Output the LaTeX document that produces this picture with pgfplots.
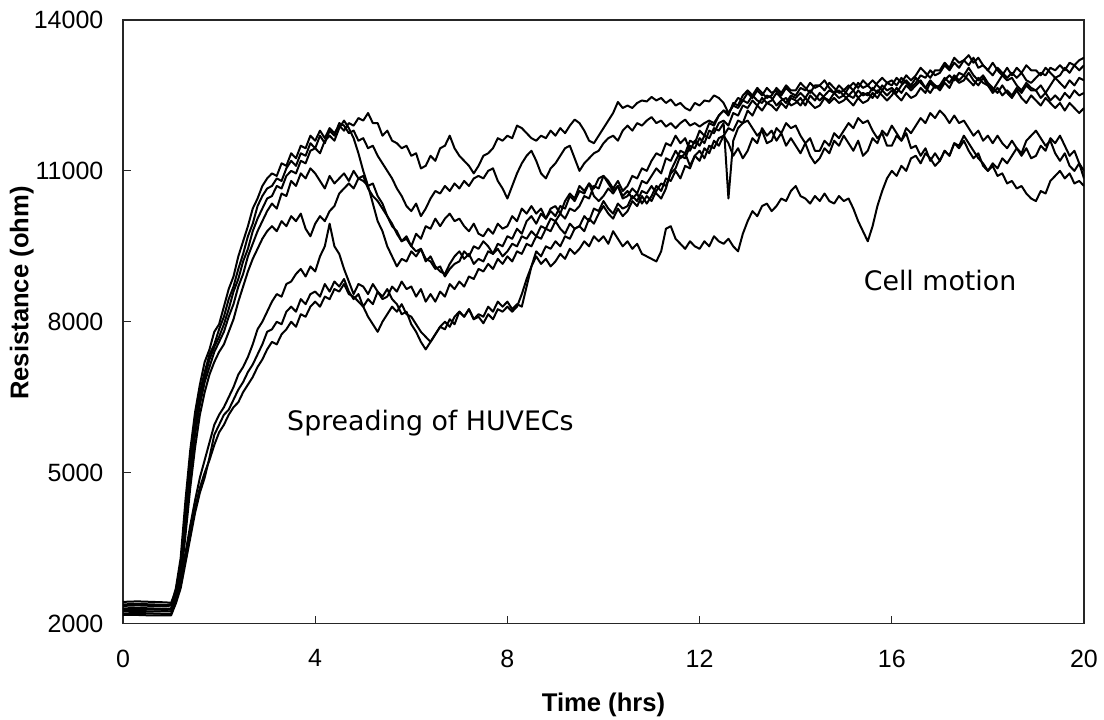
\documentclass[border=0pt]{standalone}
\usepackage{fontspec}
\setmainfont{Liberation Sans}
\newfontfamily\dejavu{DejaVu Sans}
\usepackage{pgfplots}
\usepackage{pgfplotstable}
\pgfplotsset{compat=1.18}
\pgfplotstableread{
t a b c d e f g h
0 2350 2430 2300 2250 2200 2380 2170 2280
0.3 2360 2440 2310 2250 2210 2390 2170 2290
0.6 2350 2430 2300 2240 2200 2380 2160 2280
0.9 2340 2420 2290 2240 2190 2370 2160 2270
1.0 2360 2410 2300 2240 2190 2380 2160 2280
1.1 2700 2650 2550 2500 2420 2550 2400 2450
1.2 3300 3150 3050 2950 2850 2850 2700 2750
1.3 4450 4250 4100 3950 3750 3400 3200 3300
1.4 5450 5250 5100 4950 4700 3950 3700 3800
1.5 6200 6000 5900 5750 5500 4450 4200 4300
1.6 6750 6600 6500 6350 6150 4900 4600 4700
1.7 7200 7000 6900 6800 6600 5250 4900 5000
1.8 7450 7350 7250 7100 6950 5600 5300 5250
1.9 7800 7550 7500 7400 7200 5950 5750 5550
2.0 7950 7850 7700 7600 7400 6150 5950 5800
2.1 8300 8100 7950 7800 7550 6300 6150 5950
2.2 8650 8450 8250 8100 7800 6500 6250 6150
2.3 8900 8700 8600 8350 8050 6700 6450 6300
2.4 9300 9050 8850 8700 8400 6950 6650 6400
2.5 9600 9350 9200 8950 8700 7100 6800 6600
2.6 9900 9700 9450 9300 9000 7300 7000 6750
2.7 10250 9950 9800 9550 9250 7550 7150 6900
2.8 10450 10300 10050 9800 9450 7850 7350 7100
2.9 10700 10500 10250 10000 9650 8000 7550 7250
3.0 10850 10650 10450 10200 9800 8200 7800 7450
3.1 10950 10700 10500 10350 9900 8400 7850 7600
3.2 10900 10850 10700 10250 9800 8550 8000 7550
3.3 11150 10800 10650 10550 10000 8500 7950 7750
3.4 11100 11050 10900 10500 9900 8750 8200 7850
3.5 11350 11200 11000 10800 10100 8800 8300 8000
3.6 11250 11100 10950 10700 10000 8950 8200 7900
3.7 11500 11350 11200 10950 10150 9050 8450 8150
3.8 11450 11300 11150 10850 9850 8900 8350 8100
3.9 11700 11550 11400 11050 9700 9100 8550 8300
4.0 11600 11450 11450 10950 9950 9000 8600 8400
4.1 11800 11700 11350 10800 10100 9300 8500 8300
4.2 11650 11550 11600 10650 10000 9500 8750 8500
4.3 11850 11800 11700 10900 10200 9950 8600 8450
4.4 11750 11700 11600 10750 10300 9500 8800 8650
4.5 11900 11950 11850 10850 10550 9350 8700 8600
4.6 11800 11900 12000 10950 10650 9050 8850 8750
4.7 11950 11750 11850 10800 10750 8800 8600 8550
4.8 11900 11800 11650 11000 10650 8550 8450 8500
4.9 12050 11600 11350 10850 10850 8750 8550 8400
5.0 12000 11650 11000 10900 10800 8700 8300 8300
5.1 12150 11450 10700 10650 10700 8550 8450 8100
5.2 11950 11500 10350 10500 10750 8750 8350 7950
5.3 11950 11300 10000 10400 10500 8600 8600 7800
5.4 11700 11150 9800 10250 10350 8450 8500 8000
5.5 11800 11000 9500 10100 10100 8500 8650 8150
5.6 11600 10850 9300 9950 9900 8700 8450 8300
5.7 11550 10650 9100 9750 9800 8600 8350 8200
5.8 11450 10500 9250 9600 9600 8800 8150 8350
5.9 11500 10300 9200 9700 9650 8650 8200 8150
6.0 11300 10200 9400 9500 9500 8700 7950 8100
6.1 11350 10350 9300 9750 9400 8500 7800 7950
6.2 11050 10100 9450 9650 9450 8650 7600 7800
6.3 11100 10250 9200 9900 9250 8400 7450 7700
6.4 11300 10450 9300 9850 9200 8550 7600 7600
6.5 11200 10600 9100 10050 9050 8400 7750 7750
6.6 11450 10550 9000 9900 9100 8600 7900 7900
6.7 11500 10700 8950 10050 8900 8500 7850 8000
6.8 11700 10600 9150 10150 9050 8750 8050 7900
6.9 11450 10750 9300 10000 9150 8650 7950 8100
7.0 11300 10650 9400 10050 9200 8800 8200 8200
7.1 11200 10800 9250 9900 9400 8700 8100 8100
7.2 11100 10700 9350 9800 9300 8900 8250 8250
7.3 10950 10850 9150 9950 9500 8850 8050 8050
7.4 11100 10900 9250 9750 9450 9050 8150 8100
7.5 11300 10850 9200 9700 9600 9000 8100 7970
7.6 11350 11000 9400 9850 9500 9150 8300 8150
7.7 11450 11050 9350 9750 9350 9050 8200 8050
7.8 11650 10800 9550 9950 9450 9250 8400 8250
7.9 11600 10650 9500 9850 9300 9150 8300 8200
8.0 11700 10450 9700 9900 9400 9300 8400 8300
8.1 11650 10700 9650 10100 9550 9200 8250 8200
8.2 11900 10950 9850 10000 9500 9400 8350 8300
8.3 11850 11150 9750 10250 9700 9350 8300 8550
8.4 11750 11300 10000 10150 9650 9550 8700 8850
8.5 11650 11400 10100 10300 9800 9500 9100 9100
8.6 11600 11200 9950 10150 9700 9700 9400 9300
8.7 11700 10950 10150 10250 9900 9650 9300 9150
8.8 11650 10850 10050 10050 9850 9850 9500 9250
8.9 11800 11050 10250 10200 10050 9800 9450 9100
9.0 11700 11150 10300 10100 10000 10000 9600 9200
9.1 11850 11300 10150 10300 10150 9850 9500 9350
9.2 11750 11450 10400 10250 10050 9750 9700 9250
9.3 11900 11500 10550 10500 10250 9950 9650 9450
9.4 12020 11250 10450 10400 10200 9850 9850 9350
9.5 11950 11000 10700 10600 10300 9900 9900 9450
9.6 11800 11150 10600 10550 10500 10100 9800 9600
9.7 11600 11250 10750 10750 10450 10000 10050 9500
9.8 11550 11350 10500 10650 10700 10250 9950 9700
9.9 11700 11400 10400 10850 10650 10200 10150 9600
10.0 11850 11550 10500 10900 10900 10400 10300 9700
10.1 12000 11650 10650 10750 10800 10250 10150 9550
10.2 12150 11700 10550 10600 10650 10150 10050 9800
10.3 12370 11600 10700 10700 10800 10350 10250 9650
10.4 12250 11800 10500 10450 10600 10250 10100 9500
10.5 12300 11900 10600 10500 10700 10300 10200 9600
10.6 12250 11800 10450 10650 10900 10500 10400 9450
10.7 12350 11950 10550 10550 10850 10400 10300 9550
10.8 12400 11900 10350 10800 11050 10600 10500 9350
10.9 12380 12000 10500 10750 11000 10550 10350 9300
11.0 12470 12070 10400 10900 11200 10700 10500 9250
11.1 12400 11950 10600 11050 11350 10550 10700 9200
11.2 12450 12000 10750 10950 11300 10450 10600 9400
11.3 12350 11880 10700 11250 11550 10650 10850 9850
11.4 12420 11950 10950 11200 11500 11000 10800 9900
11.5 12300 11850 11050 11400 11700 11200 11000 9650
11.6 12350 11950 11300 11250 11550 11400 10850 9550
11.7 12250 12020 11250 11350 11650 11350 11100 9450
11.8 12200 11900 11500 11100 11400 11600 11050 9600
11.9 12350 11950 11450 11300 11600 11550 11300 9500
12.0 12300 11880 11650 11200 11500 11800 11400 9450
12.1 12400 11950 11550 11450 11700 11700 11250 9600
12.2 12380 12000 11800 11350 11650 11950 11500 9500
12.3 12500 11950 11750 11600 11850 11900 11450 9700
12.4 12450 12100 11950 11500 11800 12100 11650 9600
12.5 12350 12200 12000 11700 11950 12200 11700 9550
12.6 12150 12150 11900 11550 10450 12100 11850 9650
12.7 12300 12300 12150 11300 11600 12350 11800 9500
12.8 12450 12250 12100 11450 11850 12300 12000 9400
12.9 12400 12400 12300 11250 11950 12500 11950 9750
13.0 12550 12350 12250 11400 12000 12600 12200 10000
13.1 12450 12500 12400 11650 11850 12500 12100 10200
13.2 12600 12400 12300 11550 11700 12650 12300 10100
13.3 12500 12350 12450 11850 11800 12550 12200 10300
13.4 12650 12500 12350 11700 11550 12450 12350 10350
13.5 12550 12450 12400 11800 11600 12500 12300 10200
13.6 12600 12300 12550 11600 11850 12650 12200 10300
13.7 12500 12400 12450 11750 11750 12550 12350 10450
13.8 12650 12450 12350 11500 11950 12700 12250 10400
13.9 12550 12300 12500 11650 11850 12600 12450 10600
14.0 12500 12350 12450 11500 11900 12600 12400 10700
14.1 12650 12450 12550 11350 11700 12750 12300 10500
14.2 12600 12300 12450 11550 11550 12650 12450 10450
14.3 12750 12500 12600 11300 11650 12550 12350 10350
14.4 12650 12400 12500 11150 11400 12700 12250 10500
14.5 12700 12550 12400 11250 11400 12700 12300 10400
14.6 12600 12450 12500 11450 11600 12800 12450 10550
14.7 12750 12350 12600 11350 11500 12650 12400 10400
14.8 12650 12450 12550 11600 11750 12550 12550 10350
14.9 12550 12350 12700 11500 11650 12600 12450 10500
15.0 12600 12400 12600 11700 11800 12500 12500 10400
15.1 12700 12500 12500 11550 11950 12650 12400 10450
15.2 12600 12450 12600 11400 11850 12750 12300 10250
15.3 12750 12600 12450 11600 12050 12650 12450 10000
15.4 12650 12500 12550 11300 11950 12800 12350 9800
15.5 12700 12550 12500 11400 12000 12700 12400 9600
15.6 12600 12450 12650 11650 11800 12800 12550 9900
15.7 12750 12600 12550 11550 11650 12700 12450 10300
15.8 12850 12500 12700 11800 11750 12600 12600 10600
15.9 12750 12400 12600 11700 11500 12750 12500 10850
16.0 12800 12500 12650 11900 11500 12700 12600 11000
16.1 12700 12650 12550 11750 11700 12850 12500 10900
16.2 12850 12550 12700 11600 11600 12750 12400 11100
16.3 12750 12700 12800 11750 11850 12900 12550 11000
16.4 12650 12600 12700 11450 11750 12800 12450 11250
16.5 12750 12700 12850 11500 11900 12900 12500 11300
16.6 12900 12800 12750 11300 12050 13050 12650 11150
16.7 12850 12650 12650 11450 11950 12950 12550 11350
16.8 13000 12550 12800 11200 12150 12850 12750 11250
16.9 12900 12700 12700 11350 12050 13000 12650 11100
17.0 12950 12600 12650 11200 12200 13000 12700 11200
17.1 13100 12750 12800 11400 12100 13150 12850 11400
17.2 13000 12650 12900 11300 11950 13050 12750 11300
17.3 13150 12850 12800 11550 12100 13250 12900 11550
17.4 13050 12750 12950 11450 11950 13150 12800 11500
17.5 13200 12800 12900 11600 12000 13200 12900 11700
17.6 13100 12950 13050 11400 11850 13300 12800 11550
17.7 13250 12800 12900 11250 11700 13150 12700 11400
17.8 13050 12700 12800 11350 11800 13250 12850 11250
17.9 13100 12850 12900 11100 11600 13100 12750 11150
18.0 13000 12700 12750 11000 11700 13000 12700 11000
18.1 12900 12600 12650 11150 11550 13150 12550 11100
18.2 13050 12750 12550 11050 11700 13000 12650 10900
18.3 12950 12900 12700 11250 11550 12900 12500 10950
18.4 12850 12800 12550 11150 11450 13050 12600 10750
18.5 12950 12850 12450 11300 11600 12900 12500 10800
18.6 12850 12700 12600 11450 11450 13050 12650 10650
18.7 12950 12600 12450 11350 11300 12950 12550 10700
18.8 12800 12750 12350 11600 11450 13100 12700 10550
18.9 12750 12650 12500 11700 11250 13000 12600 10450
19.0 12850 12600 12400 11800 11300 13000 12600 10400
19.1 12950 12700 12300 11650 11500 12900 12450 10600
19.2 12900 12550 12450 11500 11400 13050 12550 10550
19.3 13050 12700 12350 11600 11650 12950 12400 10800
19.4 13000 12850 12250 11350 11550 12850 12500 10900
19.5 13100 12750 12350 11200 11700 12900 12400 11000
19.6 13000 12650 12200 11350 11500 13050 12550 10850
19.7 13150 12800 12350 11100 11300 12950 12450 10950
19.8 13100 12700 12250 11000 11400 13100 12600 10750
19.9 13200 12850 12150 11150 11150 13000 12500 10800
20.0 13250 12800 12250 10850 11000 13100 12550 10700
}\data
\begin{document}
\begin{tikzpicture}
\path[use as bounding box] (-61.5pt,-47.75pt) rectangle (490.5pt,311.75pt);
\begin{axis}[
  scale only axis,
  width=480.5pt, height=301.75pt,
  xmin=0, xmax=20, ymin=2000, ymax=14000,
  xtick={0,4,8,12,16,20},
  ytick={2000,5000,8000,11000,14000},
  scaled y ticks=false,
  scaled x ticks=false,
  tick align=inside,
  tick pos=left,
  major tick length=4pt,
  axis line style={line width=0.6pt, black!85},
  every tick/.style={line width=0.6pt, black!85},
  /pgf/number format/assume math mode=true,
  /pgf/number format/set thousands separator={},
  ticklabel style={font=\fontsize{12.5}{14}\selectfont},
  xticklabel style={yshift=-9.6pt},
  yticklabel style={xshift=-6.3pt},
  xlabel={Time (hrs)},
  ylabel={Resistance (ohm)},
  label style={font=\fontsize{12.8}{15}\selectfont\bfseries},
  xlabel style={at={(axis description cs:0.5,-0.1458)}, anchor=base},
  ylabel style={at={(axis description cs:-0.0984,0.5476)}, anchor=base},
  cycle list={{black, solid, mark=none}},
  every axis plot/.append style={line width=1pt, line join=round},
]
\addplot table[x=t,y=a]{\data};
\addplot table[x=t,y=b]{\data};
\addplot table[x=t,y=c]{\data};
\addplot table[x=t,y=d]{\data};
\addplot table[x=t,y=e]{\data};
\addplot table[x=t,y=f]{\data};
\addplot table[x=t,y=g]{\data};
\addplot table[x=t,y=h]{\data};
\node[anchor=base west, inner sep=0pt, font=\dejavu\fontsize{13.4}{16}\selectfont] at (axis cs:3.41,5833) {Spreading of HUVECs};
\node[anchor=base west, inner sep=0pt, font=\dejavu\fontsize{13.4}{16}\selectfont] at (axis cs:15.41,8630) {Cell motion};
\end{axis}
\end{tikzpicture}
\end{document}
